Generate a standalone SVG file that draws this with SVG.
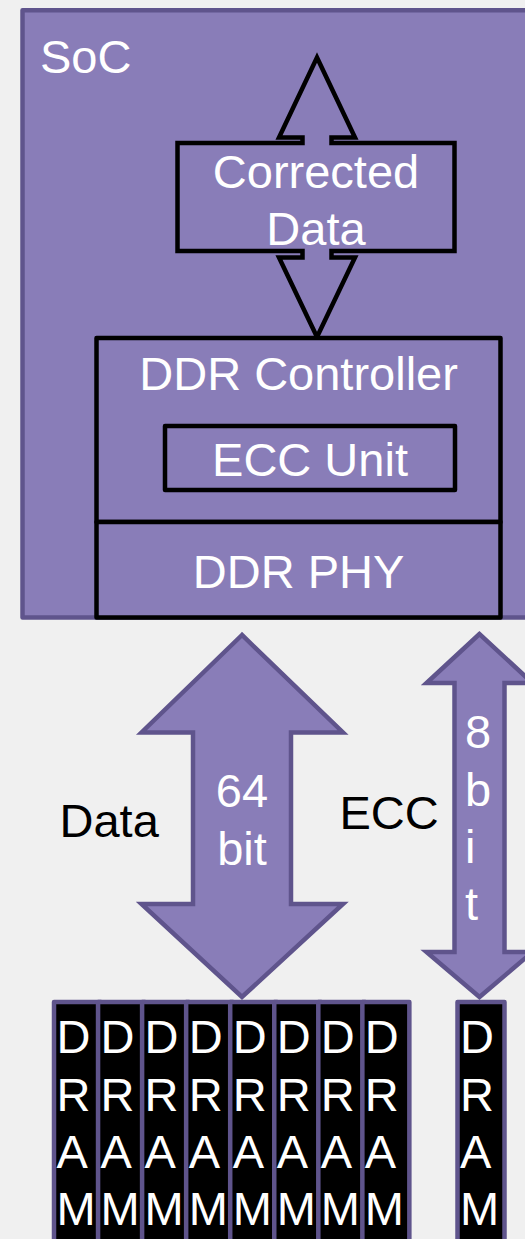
<svg xmlns="http://www.w3.org/2000/svg" width="525" height="1239" viewBox="0 0 525 1239">
<style>
text{font-family:"Liberation Sans",Arial,sans-serif;font-size:47px;fill:#fff}
.dark{fill:#000}
.mid{text-anchor:middle}
.soc{fill:#897DB8;stroke:#5F548C;stroke-width:4.5;stroke-linejoin:round}
.blk{fill:#897DB8;stroke:#000;stroke-width:4.5;stroke-linejoin:round}
.callout{fill:#897DB8;stroke:#000;stroke-width:4.5;stroke-linejoin:miter;stroke-miterlimit:10}
.bus{fill:#897DB8;stroke:#5F548C;stroke-width:4.5;stroke-linejoin:miter;stroke-miterlimit:10}
.chip{fill:#000;stroke:#5F548C;stroke-width:4.5;stroke-linejoin:round}
</style>
<rect width="525" height="1239" fill="#F0F0F0"/>

<g id="soc">
<rect class="soc" x="22.5" y="10.3" width="540" height="607.2"/>
<text x="40" y="73">SoC</text>
</g>

<g id="corrected-data">
<path class="callout" d="M177.5,143 H302.5 V137.5 H279 L317,57.5 L355,137.5 H331.5 V143 H454.5 V251 H331.5 V257.5 H355 L317,337 L279,257.5 H302.5 V251 H177.5 Z"/>
<text class="mid" x="316" y="188">Corrected</text>
<text class="mid" x="316" y="245">Data</text>
</g>

<g id="ddr-controller">
<rect class="blk" x="96.5" y="338" width="404" height="184"/>
<text class="mid" x="298.6" y="390">DDR Controller</text>
</g>

<g id="ecc-unit">
<rect class="blk" x="165" y="426" width="290" height="64"/>
<text class="mid" x="310" y="476">ECC Unit</text>
</g>

<g id="ddr-phy">
<rect class="blk" x="96.5" y="522" width="404" height="95.5"/>
<text class="mid" x="298.6" y="588">DDR PHY</text>
</g>

<g id="connectors">
<g id="data-bus">
<path class="bus" d="M242,635 L141.5,732.5 H193 V904 H141.5 L242,997 L343,904 H291 V732.5 H343 Z"/>
<text class="mid" x="242" y="807">64</text>
<text class="mid" x="242" y="865">bit</text>
<text class="dark" x="59.5" y="837">Data</text>
</g>
<g id="ecc-bus">
<path class="bus" d="M479.5,634 L426.5,683 H454.5 V952 H426.5 L479.5,997 L532.5,952 H504.5 V683 H532.5 Z"/>
<text x="465" y="748">8</text>
<text x="465" y="806">b</text>
<text x="465" y="863">i</text>
<text x="465" y="920">t</text>
<text class="dark" x="339.5" y="829">ECC</text>
</g>
</g>

<g id="dram-0"><rect class="chip" x="54" y="1002" width="47" height="260"/><text x="56.5" y="1053">D</text><text x="56.5" y="1111">R</text><text x="56.5" y="1168">A</text><text x="56.5" y="1225">M</text></g>
<g id="dram-1"><rect class="chip" x="98.05" y="1002" width="47" height="260"/><text x="100.55" y="1053">D</text><text x="100.55" y="1111">R</text><text x="100.55" y="1168">A</text><text x="100.55" y="1225">M</text></g>
<g id="dram-2"><rect class="chip" x="142.1" y="1002" width="47" height="260"/><text x="144.6" y="1053">D</text><text x="144.6" y="1111">R</text><text x="144.6" y="1168">A</text><text x="144.6" y="1225">M</text></g>
<g id="dram-3"><rect class="chip" x="186.15" y="1002" width="47" height="260"/><text x="188.65" y="1053">D</text><text x="188.65" y="1111">R</text><text x="188.65" y="1168">A</text><text x="188.65" y="1225">M</text></g>
<g id="dram-4"><rect class="chip" x="230.2" y="1002" width="47" height="260"/><text x="232.7" y="1053">D</text><text x="232.7" y="1111">R</text><text x="232.7" y="1168">A</text><text x="232.7" y="1225">M</text></g>
<g id="dram-5"><rect class="chip" x="274.25" y="1002" width="47" height="260"/><text x="276.75" y="1053">D</text><text x="276.75" y="1111">R</text><text x="276.75" y="1168">A</text><text x="276.75" y="1225">M</text></g>
<g id="dram-6"><rect class="chip" x="318.3" y="1002" width="47" height="260"/><text x="320.8" y="1053">D</text><text x="320.8" y="1111">R</text><text x="320.8" y="1168">A</text><text x="320.8" y="1225">M</text></g>
<g id="dram-7"><rect class="chip" x="362.35" y="1002" width="47" height="260"/><text x="364.85" y="1053">D</text><text x="364.85" y="1111">R</text><text x="364.85" y="1168">A</text><text x="364.85" y="1225">M</text></g>
<g id="dram-ecc"><rect class="chip" x="457.5" y="1002" width="47" height="260"/><text x="460" y="1053">D</text><text x="460" y="1111">R</text><text x="460" y="1168">A</text><text x="460" y="1225">M</text></g>
</svg>
